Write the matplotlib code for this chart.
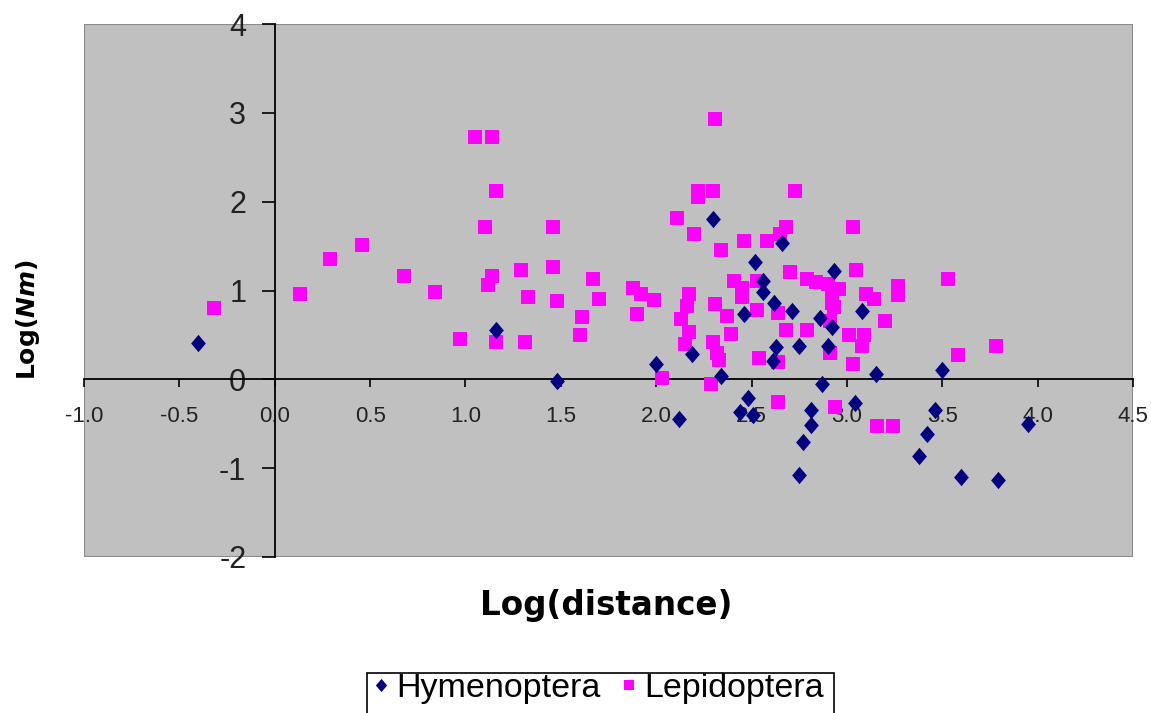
import matplotlib
matplotlib.use("Agg")
import matplotlib.pyplot as plt
from matplotlib.lines import Line2D
from matplotlib.patches import Rectangle

W, H = 1151, 713

# log10 distance vs log10 Nm, one pair of lists per order
hym_x = [-0.40, 1.16, 1.48, 2.00, 2.12, 2.19, 2.30, 2.34, 2.44, 2.46,
         2.48, 2.51, 2.52, 2.56, 2.56, 2.61, 2.62, 2.63, 2.66, 2.71,
         2.75, 2.77, 2.75, 2.81, 2.81, 2.86, 2.87, 2.90, 2.92, 2.93,
         3.04, 3.08, 3.15, 3.38, 3.42, 3.46, 3.50, 3.60, 3.79, 3.95]
hym_y = [0.41, 0.55, -0.02, 0.17, -0.45, 0.29, 1.80, 0.04, -0.37, 0.74,
         -0.21, -0.40, 1.32, 1.11, 0.98, 0.21, 0.86, 0.36, 1.53, 0.77,
         0.38, -0.71, -1.08, -0.35, -0.51, 0.69, -0.05, 0.38, 0.59, 1.22,
         -0.27, 0.77, 0.06, -0.86, -0.61, -0.34, 0.11, -1.10, -1.13, -0.50]

lep_x = [-0.32, 0.13, 0.29, 0.46, 0.68, 0.84, 0.97, 1.05, 1.14, 1.16,
         1.10, 1.14, 1.12, 1.16, 1.29, 1.33, 1.31, 1.46, 1.46, 1.48,
         1.61, 1.60, 1.67, 1.70, 1.88, 1.92, 1.99, 1.90, 2.03, 2.11,
         2.17, 2.16, 2.13, 2.17, 2.15, 2.20, 2.22, 2.30, 2.22, 2.31,
         2.29, 2.31, 2.30, 2.32, 2.33, 2.34, 2.37, 2.39, 2.41, 2.45,
         2.45, 2.46, 2.53, 2.53, 2.54, 2.58, 2.64, 2.64, 2.64, 2.65,
         2.68, 2.68, 2.70, 2.73, 2.79, 2.79, 2.84, 2.90, 2.96, 2.92,
         2.92, 2.93, 2.91, 2.91, 2.94, 3.03, 3.05, 3.01, 3.09, 3.08,
         3.03, 3.10, 3.14, 3.16, 3.24, 3.20, 3.27, 3.27, 3.53, 3.58,
         3.78]
lep_y = [0.80, 0.96, 1.36, 1.51, 1.16, 0.98, 0.45, 2.73, 2.73, 2.12,
         1.71, 1.16, 1.06, 0.42, 1.23, 0.93, 0.42, 1.71, 1.26, 0.88,
         0.70, 0.50, 1.13, 0.90, 1.03, 0.96, 0.89, 0.73, 0.02, 1.82,
         0.96, 0.82, 0.68, 0.53, 0.40, 1.64, 2.12, 2.12, 2.05, 2.93,
         -0.05, 0.85, 0.42, 0.30, 0.22, 1.46, 0.71, 0.51, 1.11, 1.03,
         0.93, 1.56, 1.11, 0.78, 0.24, 1.56, 0.20, 0.75, -0.26, 1.64,
         1.72, 0.55, 1.21, 2.12, 1.13, 0.56, 1.10, 1.07, 1.02, 0.95,
         0.86, 0.81, 0.66, 0.30, -0.31, 1.71, 1.23, 0.50, 0.50, 0.38,
         0.17, 0.96, 0.90, -0.52, -0.52, 0.66, 1.05, 0.95, 1.13, 0.27,
         0.37]

x_ticks = [-1.0, -0.5, 0.0, 0.5, 1.0, 1.5, 2.0, 2.5, 3.0, 3.5, 4.0, 4.5]
y_ticks = [-2, -1, 0, 1, 2, 3, 4]

HYM_COLOR = "#000080"
LEP_COLOR = "#FF00FF"
# tall diamond like the old spreadsheet marker
DIAMOND = [(0, 1), (0.85, 0), (0, -1), (-0.85, 0), (0, 1)]

plt.rcParams["mathtext.fontset"] = "custom"
plt.rcParams["mathtext.rm"] = "DejaVu Sans:bold"
plt.rcParams["mathtext.it"] = "DejaVu Sans:italic:bold"

fig = plt.figure(figsize=(W / 100, H / 100), dpi=100)
left, right, top, bottom = 84, 1133, 24, 557
ax = fig.add_axes([left / W, 1 - bottom / H, (right - left) / W, (bottom - top) / H])
ax.set_facecolor("#C0C0C0")
ax.set_xlim(-1.0, 4.5)
ax.set_ylim(-2, 4)

ax.scatter(lep_x, lep_y, marker="s", s=9.5 ** 2, color=LEP_COLOR,
           linewidths=0, zorder=4)
ax.scatter(hym_x, hym_y, marker=DIAMOND, s=12.5 ** 2, color=HYM_COLOR,
           linewidths=0, zorder=5)

# axes cross at the origin
for side in ("top", "right"):
    ax.spines[side].set_visible(False)
ax.spines["left"].set_position(("data", 0))
ax.spines["bottom"].set_position(("data", 0))
for side in ("left", "bottom"):
    ax.spines[side].set_color("black")
    ax.spines[side].set_linewidth(1.3)
    ax.spines[side].set_zorder(3)
ax.add_patch(Rectangle((0, 0), 1, 1, transform=ax.transAxes, fill=False,
                       edgecolor="#8C8C8C", linewidth=1.5, zorder=1))

ax.set_xticks(x_ticks)
ax.set_xticklabels([f"{t:.1f}" for t in x_ticks])
ax.set_yticks(y_ticks)
ax.set_yticklabels([str(t) for t in y_ticks])
ax.tick_params(axis="x", direction="out", length=6, width=1.2, pad=13,
               labelsize=16, labelcolor="#222222")
ax.tick_params(axis="y", direction="out", length=9.5, width=1.2, pad=11,
               labelsize=22, labelcolor="#222222")
for lab in ax.get_xticklabels() + ax.get_yticklabels():
    lab.set_fontfamily("Liberation Sans")

fig.text(606 / W, 1 - 605 / H, "Log(distance)", ha="center", va="center",
         fontsize=23.5, fontweight="bold", family="DejaVu Sans")
fig.text(28 / W, 1 - 320 / H, "Log($Nm$)", ha="center", va="center",
         rotation=90, fontsize=18, fontweight="bold", family="DejaVu Sans")

# legend box runs off the bottom edge of the figure
fig.patches.append(Rectangle((367 / W, 1 - 730 / H), (834 - 367) / W, (730 - 673) / H,
                             transform=fig.transFigure, facecolor="white",
                             edgecolor="black", linewidth=1.2))
handles = [
    Line2D([], [], linestyle="none", marker=DIAMOND, markersize=9.5,
           color=HYM_COLOR, markeredgewidth=0),
    Line2D([], [], linestyle="none", marker="s", markersize=7.5,
           color=LEP_COLOR, markeredgewidth=0),
]
leg = fig.legend(handles, ["Hymenoptera", "Lepidoptera"], ncol=2,
                 loc="center left", bbox_to_anchor=(372 / W, 1 - 688 / H),
                 prop={"family": "Liberation Sans", "size": 24.5},
                 frameon=False, borderpad=0,
                 handlelength=0.5, handletextpad=0.2, columnspacing=0.6,
                 borderaxespad=0)

fig.savefig("out.png", dpi=100)
